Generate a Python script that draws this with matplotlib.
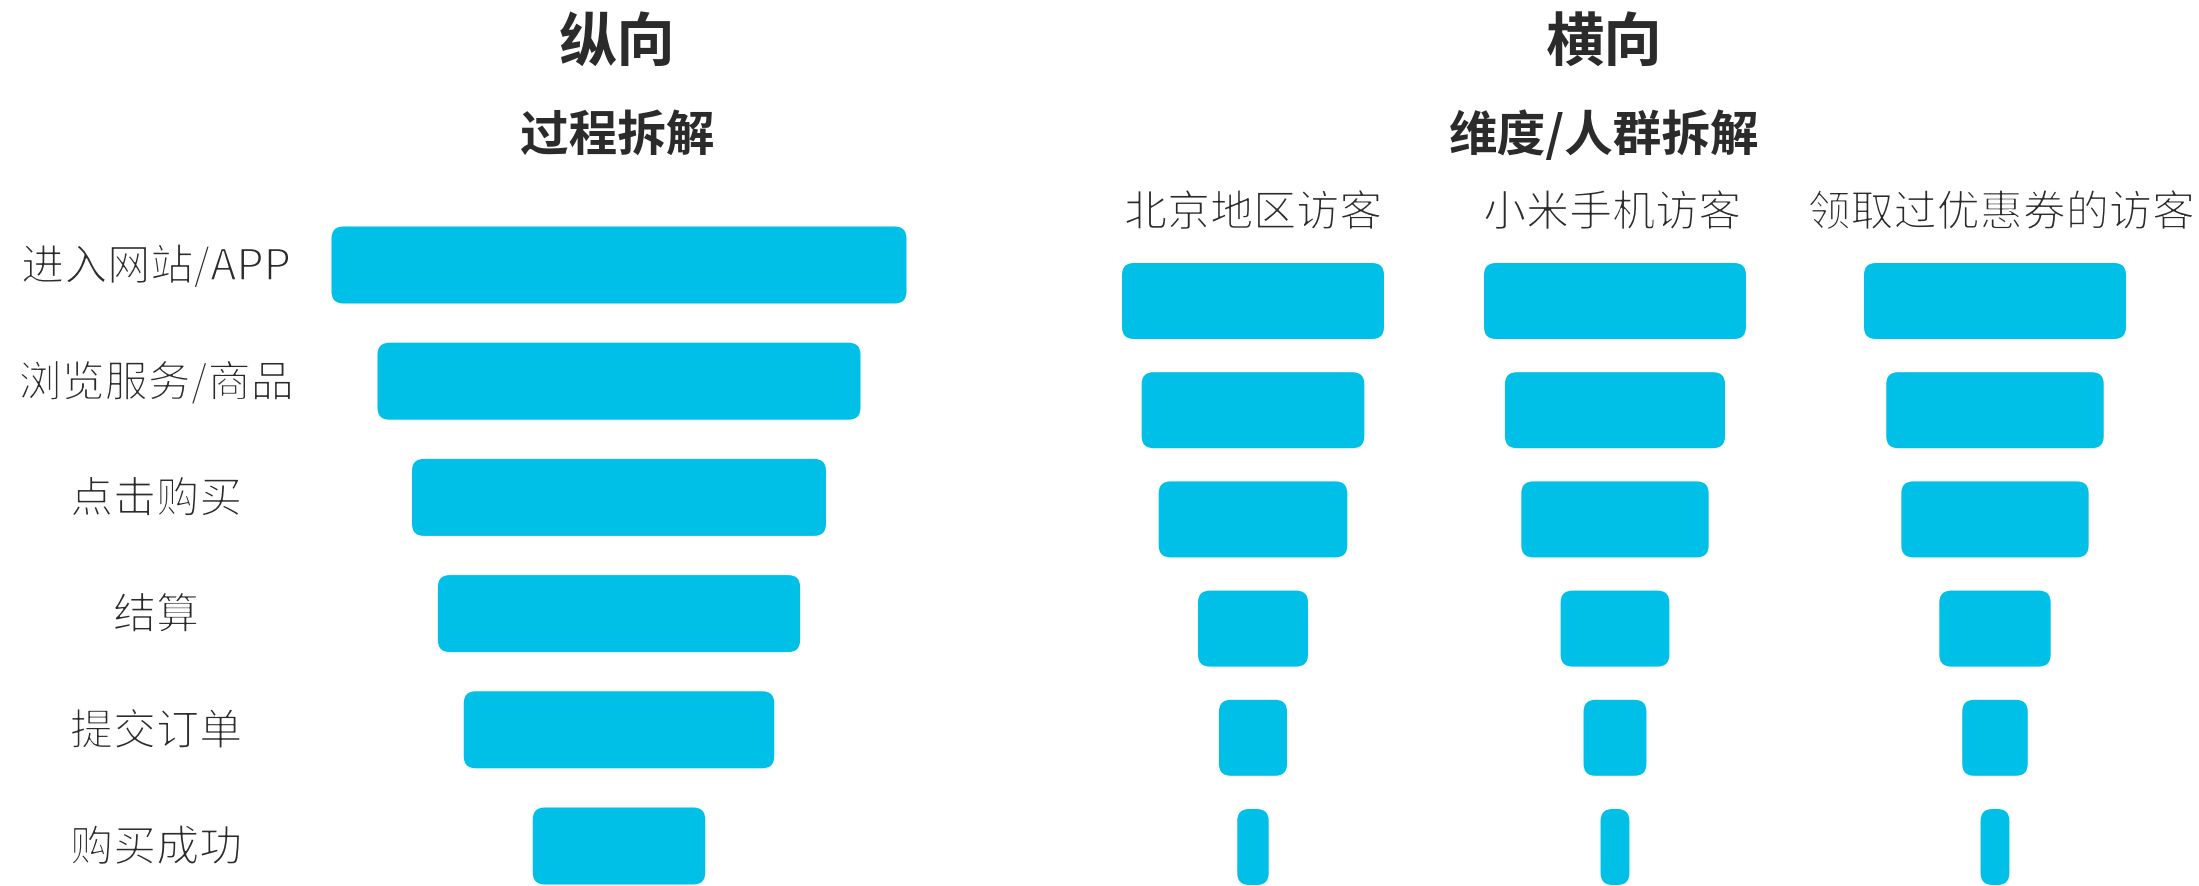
import matplotlib
matplotlib.use("Agg")
import matplotlib.pyplot as plt
import matplotlib.patheffects as pe
from matplotlib.patches import FancyBboxPatch

plt.rcParams['font.family'] = ['Noto Sans CJK SC', 'DejaVu Sans']

# 纵向：过程拆解
steps = ['进入网站/APP', '浏览服务/商品', '点击购买', '结算', '提交订单', '购买成功']
process_vals = [100, 84, 72, 63, 54, 30]

# 横向：维度/人群拆解
groups = ['北京地区访客', '小米手机访客', '领取过优惠券的访客']
beijing = [100, 85, 72, 42, 26, 12]
xiaomi = [100, 84, 71.5, 41.5, 24, 11]
coupon = [100, 83, 71.5, 42.5, 25, 11]
group_vals = [beijing, xiaomi, coupon]

color = '#00C0E8'
text_color = '#2b2b2b'
# thin the regular weight a little, the original labels use a light face
thin = [pe.Normal(), pe.Stroke(linewidth=1.1, foreground='white')]

W, H = 2199, 886
fig = plt.figure(figsize=(W / 100, H / 100), dpi=100)
ax = fig.add_axes([0, 0, 1, 1])
ax.set_xlim(0, W)
ax.set_ylim(H, 0)
ax.axis('off')


def draw_bar(cx, cy, w, h, r=12):
    ax.add_patch(FancyBboxPatch((cx - w / 2, cy - h / 2), w, h,
                                boxstyle=f"round,pad=0,rounding_size={min(r, w / 2 - 1)}",
                                fc=color, ec='none'))


# left funnel
left_cx, left_top, left_step, bar_h = 619, 265, 116.2, 77
left_scale = 575 / 100
for i, (name, v) in enumerate(zip(steps, process_vals)):
    cy = left_top + i * left_step
    draw_bar(left_cx, cy, v * left_scale, bar_h)
    ax.text(156, cy + 3, name, ha='center', va='center', fontsize=31,
            color=text_color, path_effects=thin)

ax.text(617, 44, '纵向', ha='center', va='center', fontsize=42,
        fontweight='bold', color=text_color)
ax.text(617, 136, '过程拆解', ha='center', va='center', fontsize=35,
        fontweight='bold', color=text_color)

# right funnels
ax.text(1604, 44, '横向', ha='center', va='center', fontsize=42,
        fontweight='bold', color=text_color)
ax.text(1604, 136, '维度/人群拆解', ha='center', va='center', fontsize=35,
        fontweight='bold', color=text_color)

right_cx = [1253, 1615, 1995]
label_cx = [1253, 1612, 2001]
right_top, right_step, right_h = 301, 109.2, 76
right_scale = 262 / 100
for g, vals, cx, lx in zip(groups, group_vals, right_cx, label_cx):
    ax.text(lx, 214, g, ha='center', va='center', fontsize=31,
            color=text_color, path_effects=thin)
    for i, v in enumerate(vals):
        draw_bar(cx, right_top + i * right_step, v * right_scale, right_h)

fig.savefig('out.png', dpi=100, facecolor='white')
